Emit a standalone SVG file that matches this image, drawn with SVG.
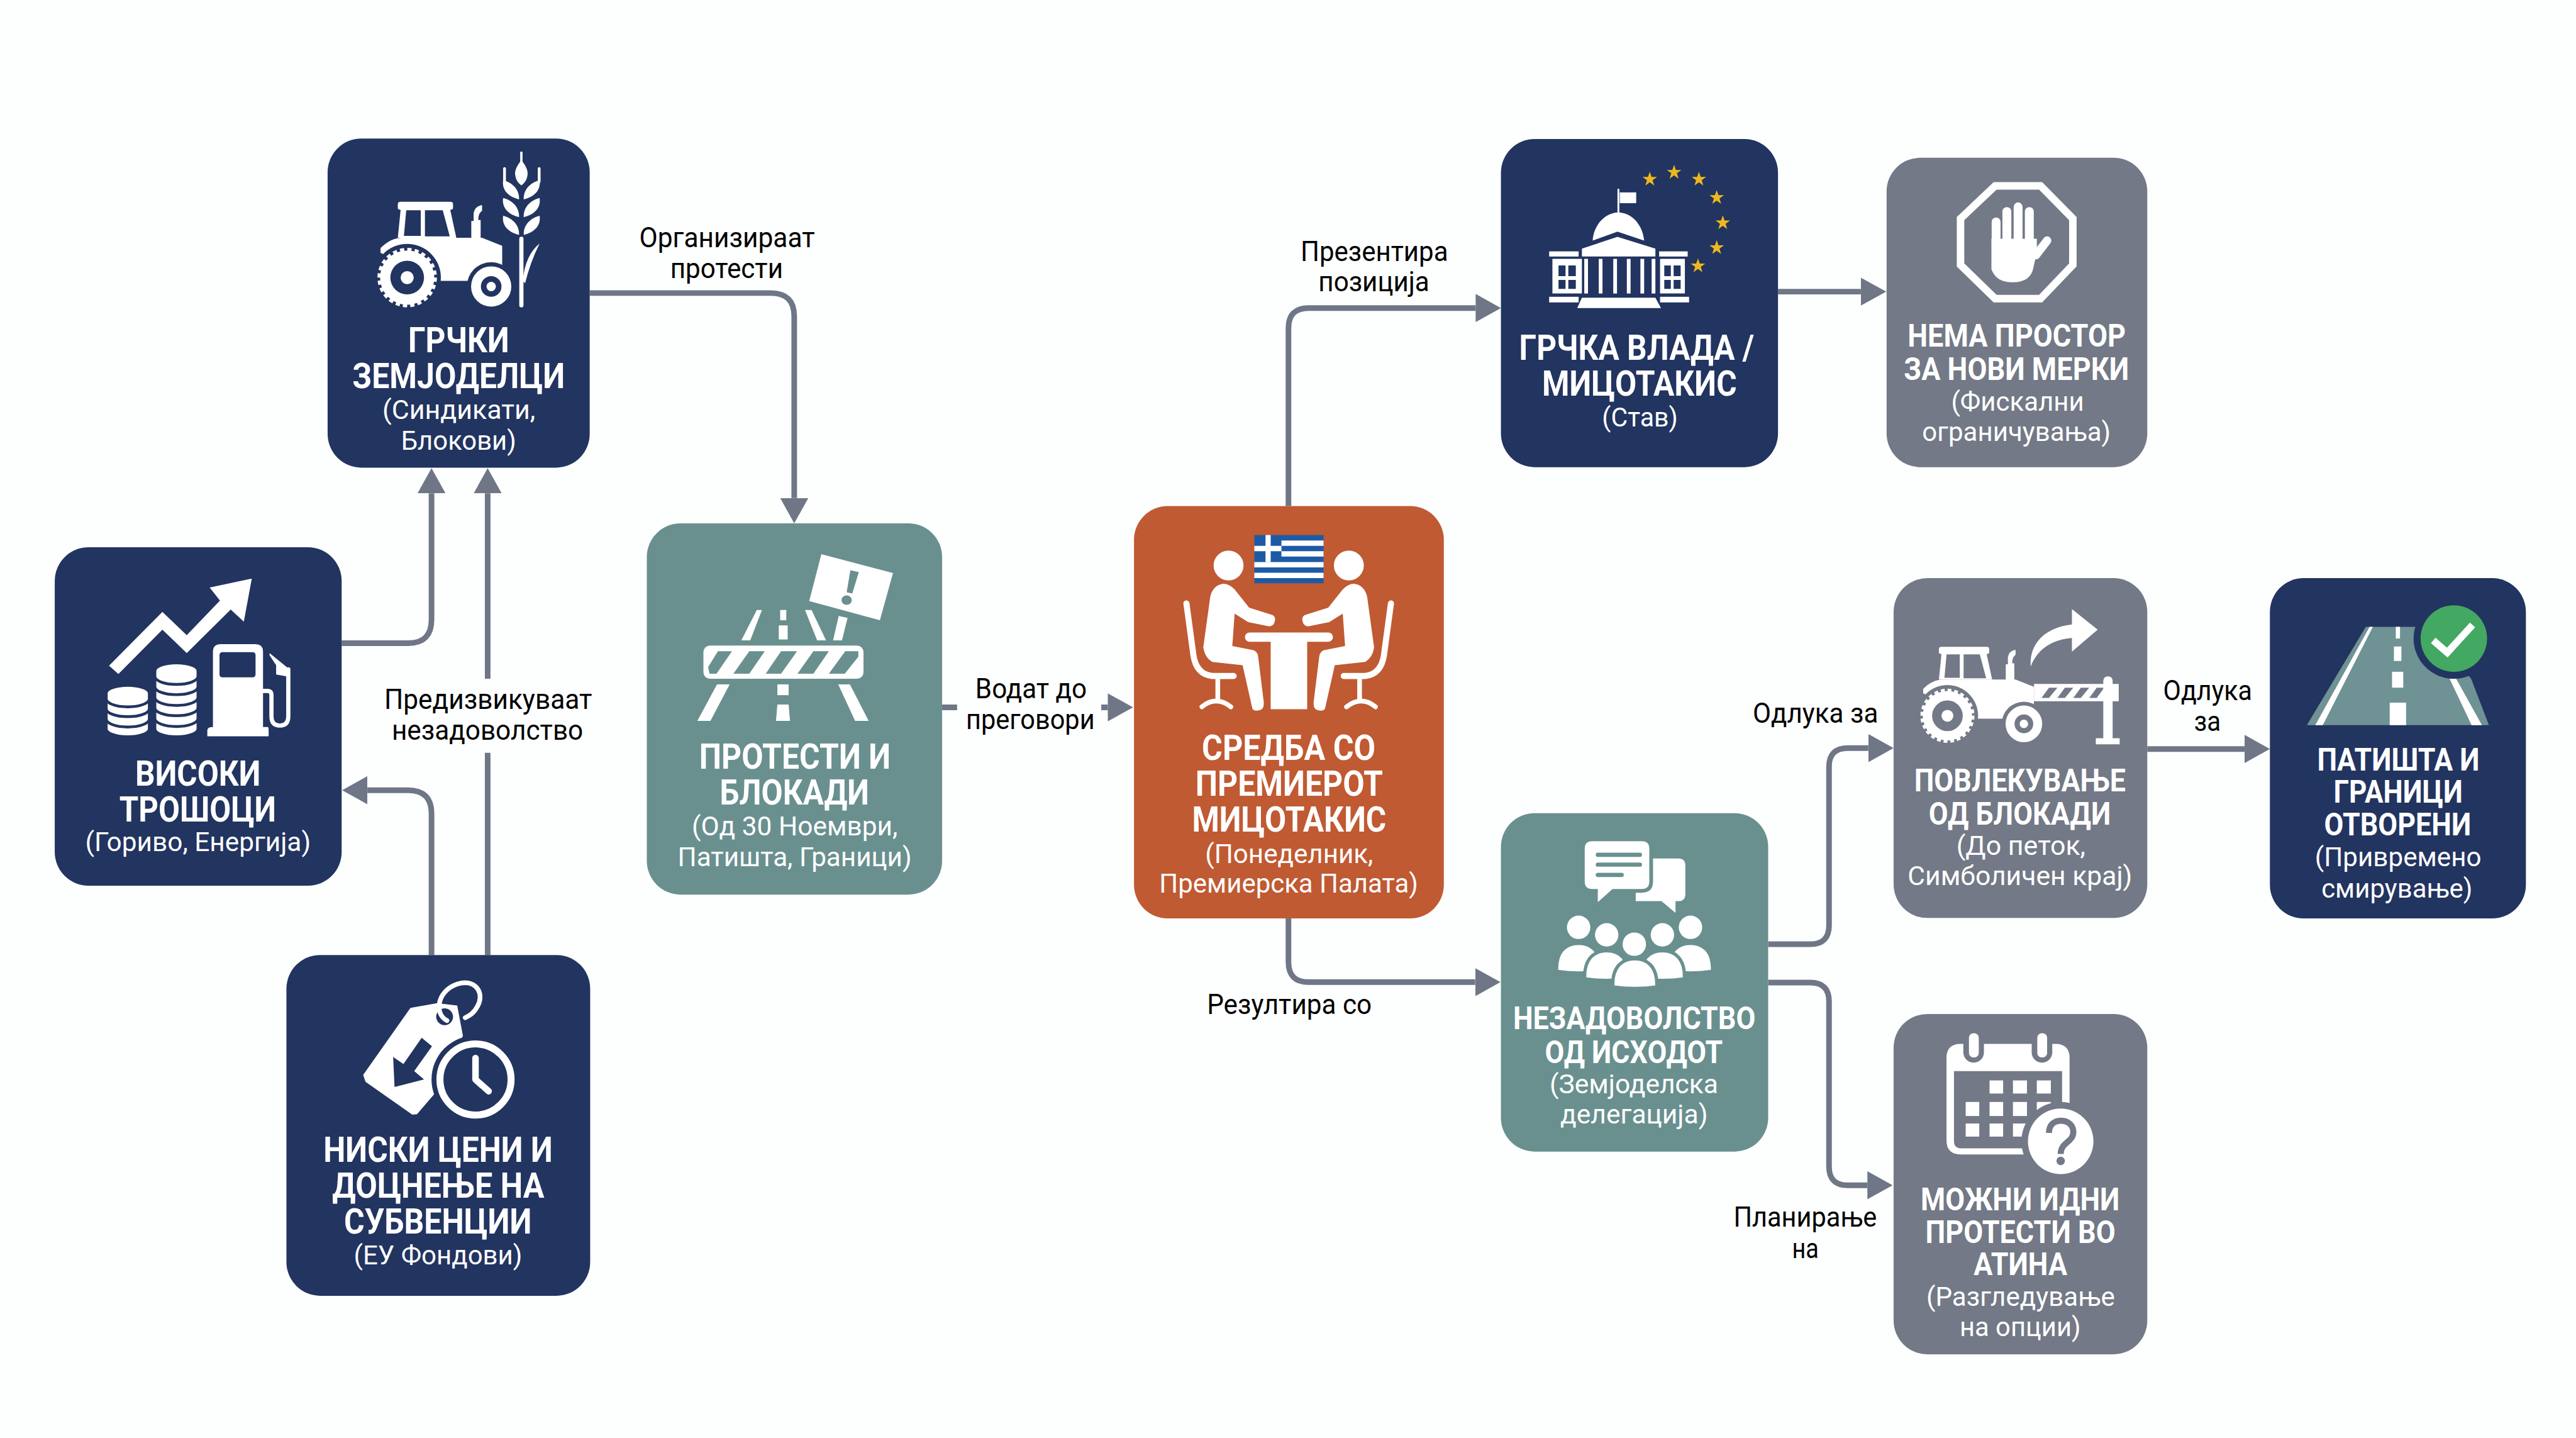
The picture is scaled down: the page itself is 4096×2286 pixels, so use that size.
<svg xmlns="http://www.w3.org/2000/svg" xmlns:xlink="http://www.w3.org/1999/xlink" width="4096" height="2286" viewBox="0 0 4096 2286">
<style>
text{font-family:"Roboto","Noto Sans","Liberation Sans",sans-serif}
.b{font-weight:700;fill:#fff;font-size:74px}
.b2{font-weight:700;fill:#fff;font-size:66px}
.s{font-weight:400;fill:#fff;font-size:58px}
.l{font-weight:400;fill:#000;font-size:60px}
.edge{fill:none;stroke:#6f7686;stroke-width:12;marker-end:url(#ah)}
.navy{fill:#223460}.teal{fill:#69908f}.orange{fill:#c05a32}.grey{fill:#737986}
.w{fill:#fff}.ws{fill:none;stroke:#fff;stroke-linecap:round;stroke-linejoin:round}
</style>
<defs>
<marker id="ah" markerUnits="userSpaceOnUse" markerWidth="54" markerHeight="60" refX="0" refY="30" orient="auto"><path d="M0 0L54 30L0 60Z" fill="#6f7686"/></marker>
<g id="tractor">
<path class="w" d="M813 530Q835 508 860 508H1030L1073 525V570L1020 590L1010 600H930L870 570L813 540Z"/>
<path class="w" d="M850 436Q850 431 856 431H962Q968 431 968 436V444Q968 448 962 448L975 508H850L856 448Q850 448 850 444Z"/>
<path fill="currentColor" d="M868 449H899V504H863Z"/>
<path fill="currentColor" d="M908 449H946L961 505H908Z"/>
<path class="w" d="M1007 510V472H1012V455Q1015 440 1030 438V450Q1022 455 1022 470H1027V510Z"/>
<circle cx="870" cy="593" r="72" fill="currentColor"/>
<circle cx="1049.500" cy="612" r="52" fill="currentColor"/>
<circle cx="870" cy="593" r="58" class="w"/>
<circle cx="870" cy="593" r="60" fill="none" stroke="#fff" stroke-width="7" stroke-dasharray="9 6.700"/>
<circle cx="870" cy="593" r="36" fill="currentColor"/>
<circle cx="870" cy="593" r="14" class="w"/>
<circle cx="1049.500" cy="612" r="43" class="w"/>
<circle cx="1049.500" cy="612" r="22" fill="currentColor"/>
<circle cx="1049.500" cy="612" r="10" class="w"/>
</g>
<path id="kern" class="w" d="M1109 426C1085 420 1072 405 1075 385C1095 390 1110 405 1109 426Z"/>
<path id="coin" class="w" stroke="#223460" stroke-width="6" d="M-46 0A46 17 0 0 1 46 0V12A46 17 0 0 1-46 12Z"/>
<polygon id="star" fill="#eeb91f" points="0,-16 3.800,-5 15.500,-5 6,2 9.500,13.500 0,6.500 -9.500,13.500 -6,2 -15.500,-5 -3.800,-5"/>
<path id="dome" class="w" stroke="#69908f" stroke-width="7" d="M-47 60C-49 15-25 0 0 0C25 0 49 15 47 60Q0 67-47 60Z"/>
<g id="chair">
<path class="ws" stroke-width="13" d="M2535 1289L2550 1400Q2556 1440 2590 1444H2636"/>
<path class="ws" stroke-width="10" d="M2602 1444V1498M2568 1510Q2598 1485 2630 1510"/>
<path class="w" d="M2614 1247Q2626 1247 2638 1259L2669 1298L2719 1314Q2726 1318 2724 1326Q2722 1338 2712 1338L2667 1329L2638 1311L2633 1380L2679 1389Q2686 1392 2688 1401L2700 1498Q2702 1515 2691 1517Q2680 1520 2676 1514L2655 1421L2590 1414Q2574 1404 2571 1383L2586 1274Q2592 1250 2614 1247Z"/>
<circle cx="2625" cy="1208" r="32" class="w"/>
</g>
</defs>
<g transform="scale(0.74418)">
<rect width="5504" height="3072" fill="#fdfefe"/>

<g id="connectors">
<path class="edge" d="M1260 626H1647Q1697 626 1697 676V1064"/>
<path class="edge" d="M730 1374H872Q922 1374 922 1324V1054"/>
<path class="edge" d="M1042 2040V1608M1042 1450V1054"/>
<path class="edge" d="M922 2040V1738Q922 1688 872 1688H785"/>
<path class="edge" d="M2013 1511H2045M2353 1511H2367"/>
<path class="edge" d="M2753 1081V701Q2753 658 2796 658H3153"/>
<path class="edge" d="M3799 623H3976"/>
<path class="edge" d="M2753 1962V2055Q2753 2098 2796 2098H3152"/>
<path class="edge" d="M3778 2017H3868Q3908 2017 3908 1977V1638Q3908 1598 3948 1598H3992"/>
<path class="edge" d="M3778 2099H3868Q3908 2099 3908 2139V2492Q3908 2532 3948 2532H3990"/>
<path class="edge" d="M4588 1600H4796"/>
</g>

<g id="labels">
<text class="l" x="1366" y="528" textLength="375" lengthAdjust="spacingAndGlyphs">Организираат</text>
<text class="l" x="1432" y="594" textLength="241" lengthAdjust="spacingAndGlyphs">протести</text>
<text class="l" x="821" y="1515" textLength="444" lengthAdjust="spacingAndGlyphs">Предизвикуваат</text>
<text class="l" x="837" y="1580" textLength="409" lengthAdjust="spacingAndGlyphs">незадоволство</text>
<text class="l" x="2084" y="1491" textLength="238" lengthAdjust="spacingAndGlyphs">Водат до</text>
<text class="l" x="2064" y="1558" textLength="275" lengthAdjust="spacingAndGlyphs">преговори</text>
<text class="l" x="2779" y="557" textLength="315" lengthAdjust="spacingAndGlyphs">Презентира</text>
<text class="l" x="2817" y="622" textLength="237" lengthAdjust="spacingAndGlyphs">позиција</text>
<text class="l" x="2579" y="2166" textLength="352" lengthAdjust="spacingAndGlyphs">Резултира со</text>
<text class="l" x="3745" y="1544" textLength="268" lengthAdjust="spacingAndGlyphs">Одлука за</text>
<text class="l" x="4622" y="1495" textLength="190" lengthAdjust="spacingAndGlyphs">Одлука</text>
<text class="l" x="4688" y="1561" textLength="57" lengthAdjust="spacingAndGlyphs">за</text>
<text class="l" x="3704" y="2621" textLength="306" lengthAdjust="spacingAndGlyphs">Планирање</text>
<text class="l" x="3829" y="2687" textLength="57" lengthAdjust="spacingAndGlyphs">на</text>
</g>

<g id="n-farmers" color="#223460">
<rect class="navy" x="700" y="296" width="560" height="703" rx="72"/>
<use xlink:href="#tractor" href="#tractor"/>
<path class="ws" stroke-width="9" d="M1114 510V652"/>
<path class="w" d="M1117 600Q1122 545 1153 520Q1133 560 1122 605Z"/>
<path class="ws" stroke-width="5" d="M1114 326V345"/>
<path class="w" d="M1114 342C1104 355 1099 365 1101 375C1103 388 1110 393 1114 396C1118 393 1125 388 1127 375C1129 365 1124 355 1114 342Z"/>
<path class="ws" stroke-width="6" d="M1078 360V388M1152 360V388"/>
<use xlink:href="#kern" href="#kern"/>
<use xlink:href="#kern" href="#kern" y="38"/>
<use xlink:href="#kern" href="#kern" y="76"/>
<use xlink:href="#kern" href="#kern" transform="matrix(-1 0 0 1 2228 0)"/>
<use xlink:href="#kern" href="#kern" transform="matrix(-1 0 0 1 2228 38)"/>
<use xlink:href="#kern" href="#kern" transform="matrix(-1 0 0 1 2228 76)"/>
<text class="b" x="872" y="752" textLength="216" lengthAdjust="spacingAndGlyphs">ГРЧКИ</text>
<text class="b" x="753" y="829" textLength="454" lengthAdjust="spacingAndGlyphs">ЗЕМЈОДЕЛЦИ</text>
<text class="s" x="817" y="895" textLength="327" lengthAdjust="spacingAndGlyphs">(Синдикати,</text>
<text class="s" x="857" y="961" textLength="246" lengthAdjust="spacingAndGlyphs">Блокови)</text>
</g>

<g id="n-costs">
<rect class="navy" x="117" y="1169" width="613" height="723" rx="72"/>
<polygon class="w" points="233,1422 347,1307 399,1357 470,1283 448,1255 538,1236 521,1328 493,1302 399,1395 347,1345 253,1440"/>
<use xlink:href="#coin" href="#coin" x="273" y="1545"/><use xlink:href="#coin" href="#coin" x="273" y="1524"/><use xlink:href="#coin" href="#coin" x="273" y="1502"/><use xlink:href="#coin" href="#coin" x="273" y="1481"/>
<use xlink:href="#coin" href="#coin" x="377" y="1545"/><use xlink:href="#coin" href="#coin" x="377" y="1523"/><use xlink:href="#coin" href="#coin" x="377" y="1500"/><use xlink:href="#coin" href="#coin" x="377" y="1478"/><use xlink:href="#coin" href="#coin" x="377" y="1455"/><use xlink:href="#coin" href="#coin" x="377" y="1433"/>
<path class="w" d="M455 1392Q455 1376 472 1376H545Q562 1376 562 1392V1553H572Q574 1553 574 1560V1573H443V1560Q443 1553 455 1553Z"/>
<rect class="navy" x="469" y="1393" width="77" height="54" rx="6"/>
<path class="ws" stroke-width="9" d="M562 1476H572Q580 1476 580 1485V1530Q580 1550 598 1550Q616 1550 616 1530V1430"/>
<polygon class="w" points="576,1395 614,1426 618,1431 618,1446 590,1441 590,1421 576,1400"/>
<text class="b" x="289" y="1678" textLength="268" lengthAdjust="spacingAndGlyphs">ВИСОКИ</text>
<text class="b" x="255" y="1755" textLength="335" lengthAdjust="spacingAndGlyphs">ТРОШОЦИ</text>
<text class="s" x="182" y="1818" textLength="482" lengthAdjust="spacingAndGlyphs">(Гориво, Енергија)</text>
</g>

<g id="n-prices">
<rect class="navy" x="612" y="2040" width="649" height="728" rx="72"/>
<polygon class="w" points="934,2143 877,2153 776,2296 781,2311 881,2381 891,2380 960,2300 989,2212 977,2148"/>
<polygon class="navy" points="901,2217 923,2235 885,2288 906,2306 843,2322 840,2258 862,2273"/>
<circle cx="950" cy="2172" r="18" class="navy"/>
<path class="ws" stroke-width="10" d="M955 2180C925 2165 935 2110 985 2100C1020 2094 1035 2125 1020 2150C1012 2165 1003 2170 994 2174"/>
<circle cx="1016" cy="2306" r="94" class="navy"/>
<circle cx="1016" cy="2306" r="76" fill="none" stroke="#fff" stroke-width="15"/>
<path class="ws" stroke-width="14" d="M1016 2260V2306L1044 2331"/>
<text class="b" x="691" y="2482" textLength="490" lengthAdjust="spacingAndGlyphs">НИСКИ ЦЕНИ И</text>
<text class="b" x="710" y="2558" textLength="453" lengthAdjust="spacingAndGlyphs">ДОЦНЕЊЕ НА</text>
<text class="b" x="735" y="2635" textLength="401" lengthAdjust="spacingAndGlyphs">СУБВЕНЦИИ</text>
<text class="s" x="756" y="2701" textLength="360" lengthAdjust="spacingAndGlyphs">(ЕУ Фондови)</text>
</g>

<g id="n-protests">
<rect class="teal" x="1382" y="1118" width="631" height="793" rx="72"/>
<polygon class="w" points="1755,1184 1908,1224 1880,1325 1729,1284"/>
<polygon class="teal" points="1817,1218 1835,1222 1821,1268 1809,1265"/>
<ellipse class="teal" cx="1809" cy="1282" rx="11" ry="10"/>
<polygon class="w" points="1617,1303 1628,1303 1603,1368 1584,1368"/>
<rect class="w" x="1667" y="1303" width="13" height="22"/><rect class="w" x="1664" y="1336" width="19" height="30"/>
<polygon class="w" points="1720,1303 1734,1303 1765,1368 1746,1368"/>
<polygon class="w" points="1792,1316 1811,1320 1799,1368 1780,1368"/>
<rect class="w" x="1503" y="1379" width="342" height="71" rx="14"/>
<polygon class="teal" points="1534,1391 1564,1391 1531,1439 1516,1439 1513,1425"/>
<polygon class="teal" points="1601,1391 1634,1391 1601,1439 1567,1439"/>
<polygon class="teal" points="1669,1391 1703,1391 1669,1439 1636,1439"/>
<polygon class="teal" points="1738,1391 1771,1391 1738,1439 1704,1439"/>
<polygon class="teal" points="1806,1391 1834,1391 1834,1403 1805,1439 1771,1439"/>
<polygon class="w" points="1532,1462 1559,1462 1518,1540 1490,1540"/>
<rect class="w" x="1661" y="1462" width="24" height="23"/>
<polygon class="w" points="1661,1505 1685,1505 1688,1540 1658,1540"/>
<polygon class="w" points="1791,1462 1816,1462 1856,1540 1827,1540"/>
<text class="b" x="1494" y="1642" textLength="409" lengthAdjust="spacingAndGlyphs">ПРОТЕСТИ И</text>
<text class="b" x="1538" y="1718" textLength="319" lengthAdjust="spacingAndGlyphs">БЛОКАДИ</text>
<text class="s" x="1478" y="1784" textLength="440" lengthAdjust="spacingAndGlyphs">(Од 30 Ноември,</text>
<text class="s" x="1448" y="1851" textLength="500" lengthAdjust="spacingAndGlyphs">Патишта, Граници)</text>
</g>

<g id="n-meeting">
<rect class="orange" x="2423" y="1081" width="662" height="881" rx="72"/>
<rect x="2680" y="1143" width="148" height="103" fill="#1d5aa6"/>
<path fill="#fff" d="M2738 1154.500H2828V1166H2738ZM2738 1177.500H2828V1189H2738ZM2738 1200.500H2828V1212H2680V1200.500H2738ZM2680 1223.500H2828V1235H2680Z"/>
<path fill="#fff" d="M2704 1143H2715V1200.500H2704ZM2680 1166H2738V1177.500H2680Z"/>
<use xlink:href="#chair" href="#chair"/>
<use xlink:href="#chair" href="#chair" transform="matrix(-1 0 0 1 5507 0)"/>
<rect class="w" x="2660" y="1351" width="188" height="20" rx="10"/>
<rect class="w" x="2715" y="1365" width="78" height="150"/>
<text class="b" x="2568" y="1623" textLength="371" lengthAdjust="spacingAndGlyphs">СРЕДБА СО</text>
<text class="b" x="2554" y="1700" textLength="401" lengthAdjust="spacingAndGlyphs">ПРЕМИЕРОТ</text>
<text class="b" x="2547" y="1777" textLength="415" lengthAdjust="spacingAndGlyphs">МИЦОТАКИС</text>
<text class="s" x="2575" y="1844" textLength="359" lengthAdjust="spacingAndGlyphs">(Понеделник,</text>
<text class="s" x="2477" y="1907" textLength="553" lengthAdjust="spacingAndGlyphs">Премиерска Палата)</text>
</g>

<g id="n-gov">
<rect class="navy" x="3207" y="297" width="592" height="701" rx="72"/>
<use xlink:href="#star" href="#star" x="3525" y="383"/><use xlink:href="#star" href="#star" x="3577" y="368"/><use xlink:href="#star" href="#star" x="3630" y="383"/><use xlink:href="#star" href="#star" x="3668" y="422"/><use xlink:href="#star" href="#star" x="3681" y="476"/><use xlink:href="#star" href="#star" x="3668" y="529"/><use xlink:href="#star" href="#star" x="3628" y="568"/>
<path class="ws" stroke-width="4" d="M3458 405V456"/>
<rect class="w" x="3461" y="411" width="35" height="23"/>
<path class="w" d="M3403 514C3405 480 3430 454 3458 454C3486 454 3510 480 3513 514L3456 495Z"/>
<polygon class="w" points="3380,531 3456,506 3537,531 3537,548 3380,548"/>
<rect class="w" x="3310" y="537" width="63" height="11"/><rect class="w" x="3545" y="537" width="61" height="11"/>
<path class="w" fill-rule="evenodd" d="M3317 553H3380V627H3317ZM3330 567V590H3345V567ZM3351 567V590H3367V567ZM3330 598V617H3345V598ZM3351 598V617H3367V598Z"/>
<path class="w" fill-rule="evenodd" d="M3547 553H3600V627H3547ZM3556 567V590H3570V567ZM3576 567V590H3591V567ZM3556 598V617H3570V598ZM3576 598V617H3591V598Z"/>
<rect class="w" x="3385" y="553" width="8" height="74"/><rect class="w" x="3416" y="553" width="8" height="74"/><rect class="w" x="3447" y="553" width="8" height="74"/><rect class="w" x="3476" y="553" width="8" height="74"/><rect class="w" x="3505" y="553" width="8" height="74"/><rect class="w" x="3529" y="553" width="8" height="74"/>
<rect class="w" x="3310" y="634" width="63" height="12"/><rect class="w" x="3547" y="634" width="62" height="12"/>
<polygon class="w" points="3380,636 3537,636 3549,658 3370,658"/>
<text class="b" x="3246" y="768" textLength="502" lengthAdjust="spacingAndGlyphs">ГРЧКА ВЛАДА /</text>
<text class="b" x="3295" y="845" textLength="416" lengthAdjust="spacingAndGlyphs">МИЦОТАКИС</text>
<text class="s" x="3423" y="911" textLength="162" lengthAdjust="spacingAndGlyphs">(Став)</text>
</g>

<g id="n-noroom">
<rect class="grey" x="4031" y="337" width="557" height="661" rx="72"/>
<polygon fill="none" stroke="#fff" stroke-width="16" points="4263,397 4360,397 4429,467 4429,566 4360,638 4263,638 4189,566 4189,467"/>
<path class="w" d="M4255 510V575Q4265 603 4300 603Q4340 603 4345 570L4352 540V510Z"/>
<path class="ws" stroke-width="19" d="M4265 474V520"/>
<path class="ws" stroke-width="19" d="M4288 452V520"/>
<path class="ws" stroke-width="19" d="M4312 442V520"/>
<path class="ws" stroke-width="19" d="M4336 452V520"/>
<path class="ws" stroke-width="18" d="M4350 545L4374 514"/>
<text class="b2" x="4076" y="741" textLength="466" lengthAdjust="spacingAndGlyphs">НЕМА ПРОСТОР</text>
<text class="b2" x="4068" y="811" textLength="481" lengthAdjust="spacingAndGlyphs">ЗА НОВИ МЕРКИ</text>
<text class="s" x="4169" y="878" textLength="284" lengthAdjust="spacingAndGlyphs">(Фискални</text>
<text class="s" x="4107" y="942" textLength="403" lengthAdjust="spacingAndGlyphs">ограничувања)</text>
</g>

<g id="n-discontent">
<rect class="teal" x="3207" y="1737" width="571" height="723" rx="72"/>
<path class="w" d="M3495 1834H3586Q3601 1834 3601 1849V1910Q3601 1925 3586 1925H3580V1950L3550 1925H3495Z"/>
<path class="w" stroke="#69908f" stroke-width="8" d="M3402 1793H3508Q3528 1793 3528 1813V1883Q3528 1903 3508 1903H3447L3410 1936V1903H3402Q3382 1903 3382 1883V1813Q3382 1793 3402 1793Z"/>
<path fill="none" stroke="#69908f" stroke-width="9" stroke-linecap="round" d="M3414 1826H3504M3414 1847H3504M3414 1869H3465"/>
<circle class="w" cx="3373" cy="1981" r="25"/><circle class="w" cx="3612" cy="1981" r="25"/><circle class="w" cx="3433" cy="1997" r="25"/><circle class="w" cx="3552" cy="1997" r="25"/><circle class="w" cx="3492" cy="2017" r="25"/>
<use xlink:href="#dome" href="#dome" x="3373" y="2015"/><use xlink:href="#dome" href="#dome" x="3612" y="2015"/>
<use xlink:href="#dome" href="#dome" x="3433" y="2031"/><use xlink:href="#dome" href="#dome" x="3552" y="2031"/>
<use xlink:href="#dome" href="#dome" x="3493" y="2048"/>
<text class="b2" x="3233" y="2199" textLength="518" lengthAdjust="spacingAndGlyphs">НЕЗАДОВОЛСТВО</text>
<text class="b2" x="3301" y="2271" textLength="380" lengthAdjust="spacingAndGlyphs">ОД ИСХОДОТ</text>
<text class="s" x="3311" y="2336" textLength="360" lengthAdjust="spacingAndGlyphs">(Земјоделска</text>
<text class="s" x="3334" y="2400" textLength="315" lengthAdjust="spacingAndGlyphs">делегација)</text>
</g>

<g id="n-withdraw" color="#737986">
<rect class="grey" x="4046" y="1235" width="542" height="726" rx="72"/>
<use xlink:href="#tractor" href="#tractor" transform="translate(3369.300 989.400) scale(0.91)"/>
<path class="w" d="M4339 1424C4335 1375 4370 1340 4427 1334V1301L4482 1345L4427 1392V1363C4395 1365 4355 1380 4339 1424Z"/>
<rect class="w" x="4346" y="1461" width="181" height="37"/>
<polygon class="grey" points="4378,1469 4396,1469 4378,1491 4362,1491"/>
<polygon class="grey" points="4412,1469 4430,1469 4412,1491 4396,1491"/>
<polygon class="grey" points="4446,1469 4464,1469 4446,1491 4430,1491"/>
<polygon class="grey" points="4480,1469 4496,1469 4480,1491 4464,1491"/>
<rect class="w" x="4494" y="1445" width="20" height="140" rx="9"/>
<rect class="w" x="4478" y="1577" width="51" height="13"/>
<text class="b2" x="4090" y="1691" textLength="452" lengthAdjust="spacingAndGlyphs">ПОВЛЕКУВАЊЕ</text>
<text class="b2" x="4121" y="1761" textLength="389" lengthAdjust="spacingAndGlyphs">ОД БЛОКАДИ</text>
<text class="s" x="4180" y="1826" textLength="276" lengthAdjust="spacingAndGlyphs">(До петок,</text>
<text class="s" x="4076" y="1890" textLength="480" lengthAdjust="spacingAndGlyphs">Симболичен крај)</text>
</g>

<g id="n-roads">
<rect class="navy" x="4850" y="1235" width="547" height="727" rx="72"/>
<polygon fill="#6f9294" points="4929,1549 5055,1339 5190,1339 5280,1450 5318,1549"/>
<polygon class="w" points="4947,1549 4963,1549 5070,1339 5063,1339"/>
<polygon class="w" points="5234,1450 5248,1450 5303,1549 5281,1549"/>
<rect class="w" x="5119" y="1339" width="9" height="25"/>
<rect class="w" x="5115" y="1381" width="16" height="31"/>
<rect class="w" x="5111" y="1435" width="24" height="34"/>
<rect class="w" x="5106" y="1501" width="35" height="48"/>
<circle class="navy" cx="5243" cy="1364" r="86"/>
<circle cx="5243" cy="1364" r="71" fill="#43a862"/>
<path fill="none" stroke="#fff" stroke-width="15" d="M5199 1368L5229 1394L5283 1335"/>
<text class="b2" x="4951" y="1646" textLength="347" lengthAdjust="spacingAndGlyphs">ПАТИШТА И</text>
<text class="b2" x="4986" y="1715" textLength="276" lengthAdjust="spacingAndGlyphs">ГРАНИЦИ</text>
<text class="b2" x="4966" y="1785" textLength="314" lengthAdjust="spacingAndGlyphs">ОТВОРЕНИ</text>
<text class="s" x="4946" y="1850" textLength="356" lengthAdjust="spacingAndGlyphs">(Привремено</text>
<text class="s" x="4960" y="1917" textLength="323" lengthAdjust="spacingAndGlyphs">смирување)</text>
</g>

<g id="n-athens">
<rect class="grey" x="4046" y="2166" width="542" height="727" rx="72"/>
<path class="w" fill-rule="evenodd" d="M4189 2230H4392Q4422 2230 4422 2260V2436Q4422 2466 4392 2466H4189Q4159 2466 4159 2436V2260Q4159 2230 4189 2230ZM4175 2288V2438Q4175 2453 4190 2453H4406V2288Z"/>
<rect class="grey" x="4195" y="2200" width="44" height="70" rx="22"/>
<rect class="grey" x="4341" y="2200" width="44" height="70" rx="22"/>
<rect class="w" x="4207" y="2207" width="21" height="52" rx="10"/>
<rect class="w" x="4353" y="2207" width="21" height="52" rx="10"/>
<rect class="w" x="4251" y="2308" width="29" height="28"/><rect class="w" x="4301" y="2308" width="30" height="28"/><rect class="w" x="4352" y="2308" width="30" height="28"/>
<rect class="w" x="4200" y="2354" width="29" height="30"/><rect class="w" x="4251" y="2354" width="29" height="30"/><rect class="w" x="4301" y="2354" width="30" height="30"/><rect class="w" x="4352" y="2354" width="30" height="30"/>
<rect class="w" x="4200" y="2400" width="29" height="28"/><rect class="w" x="4251" y="2400" width="29" height="28"/><rect class="w" x="4301" y="2400" width="30" height="28"/>
<circle class="grey" cx="4403" cy="2438" r="84"/>
<circle class="w" cx="4403" cy="2438" r="70"/>
<path fill="none" stroke="#737986" stroke-width="13" d="M4378 2420C4378 2402 4390 2394 4404 2394C4420 2394 4430 2405 4430 2418C4430 2440 4403 2440 4403 2465"/>
<circle class="grey" cx="4403" cy="2480" r="9"/>
<text class="b2" x="4104" y="2585" textLength="425" lengthAdjust="spacingAndGlyphs">МОЖНИ ИДНИ</text>
<text class="b2" x="4114" y="2655" textLength="406" lengthAdjust="spacingAndGlyphs">ПРОТЕСТИ ВО</text>
<text class="b2" x="4217" y="2724" textLength="200" lengthAdjust="spacingAndGlyphs">АТИНА</text>
<text class="s" x="4116" y="2789" textLength="403" lengthAdjust="spacingAndGlyphs">(Разгледување</text>
<text class="s" x="4187" y="2854" textLength="259" lengthAdjust="spacingAndGlyphs">на опции)</text>
</g>
</g>
</svg>
